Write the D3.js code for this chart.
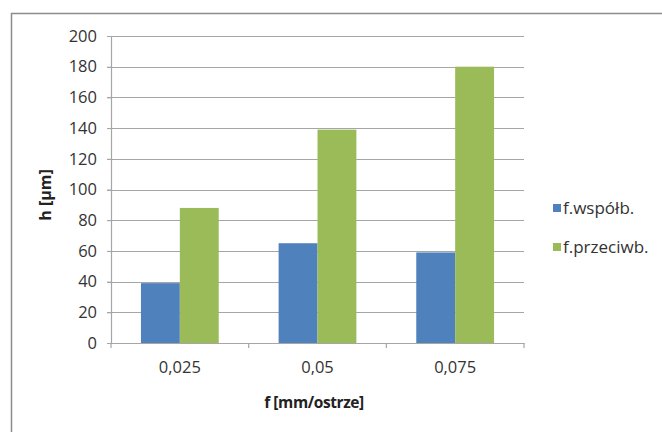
<!DOCTYPE html>
<html><head><meta charset="utf-8">
<script src="https://cdn.jsdelivr.net/npm/d3@7"></script>
<style>body{margin:0;background:#fff}svg{display:block}</style>
</head><body><svg id="c" width="662" height="432"></svg>
<script>
const categories = ["0,025", "0,05", "0,075"];
const seriesNames = ["f.współb.", "f.przeciwb."];
const wspolb = [39, 65, 59];
const przeciwb = [88, 139, 180];
const yTicks = [0, 20, 40, 60, 80, 100, 120, 140, 160, 180, 200];
const colors = ["#4F81BD", "#9BBB59"];

const svg = d3.select("#c");
const font = "'Open Sans', 'Liberation Sans', sans-serif";
const W = 662, H = 432;
const m = {left: 111, right: 524, top: 36, bottom: 343};

// outer frame
svg.append("path").attr("d", `M11.5,${H} V13.5 H${W}`).attr("fill", "none").attr("stroke", "#8c8c8c").attr("stroke-width", 1.5);

const x = d3.scaleBand().domain(categories).range([m.left, m.right]);
const xs = d3.scaleBand().domain(seriesNames).range([0, x.bandwidth()]).paddingInner(0).paddingOuter(0.77);
const y = d3.scaleLinear().domain([0, 200]).range([m.bottom, m.top]);

// gridlines
svg.append("g").selectAll("line").data(yTicks).join("line")
  .attr("x1", m.left - 4).attr("x2", m.right)
  .attr("y1", d => Math.round(y(d)) + 0.5).attr("y2", d => Math.round(y(d)) + 0.5)
  .attr("stroke", "#a6a6a6").attr("stroke-width", 1.2);

// bars
const data = [wspolb, przeciwb];
const g = svg.append("g");
seriesNames.forEach((s, si) => {
  g.selectAll(null).data(categories).join("rect")
    .attr("x", c => x(c) + xs(s))
    .attr("width", xs.bandwidth())
    .attr("y", (c, i) => y(data[si][i]))
    .attr("height", (c, i) => y(0) - y(data[si][i]))
    .attr("fill", colors[si]);
});

// y axis
const yAxis = d3.axisLeft(y).tickValues(yTicks).tickSize(4).tickPadding(10);
const ga = svg.append("g").attr("transform", `translate(${m.left},0)`).call(yAxis);
ga.select(".domain").attr("stroke", "#a6a6a6").attr("stroke-width", 1.2);
ga.selectAll(".tick line").attr("stroke", "#a6a6a6");
ga.selectAll("text").attr("font-family", font).attr("font-size", 16.5).attr("fill", "#333");

// x axis
const xAxis = d3.axisBottom(x).tickSize(0).tickPadding(18);
const gx = svg.append("g").attr("transform", `translate(0,${m.bottom})`).call(xAxis);
gx.select(".domain").attr("stroke", "#a6a6a6").attr("stroke-width", 1.2);
gx.selectAll("text").attr("font-family", font).attr("font-size", 16.5).attr("fill", "#333");
// category separators
svg.append("g").selectAll("line").data(categories).join("line")
  .attr("x1", c => x(c) + x.bandwidth()).attr("x2", c => x(c) + x.bandwidth())
  .attr("y1", m.bottom).attr("y2", m.bottom + 5)
  .attr("stroke", "#a6a6a6").attr("stroke-width", 1.2);
svg.append("line").attr("x1", m.left).attr("x2", m.left).attr("y1", m.bottom).attr("y2", m.bottom + 5)
  .attr("stroke", "#a6a6a6").attr("stroke-width", 1.2);

// titles
svg.append("text").attr("x", 314).attr("y", 408).attr("text-anchor", "middle")
  .attr("font-family", font).attr("font-size", 15.5).attr("font-weight", "bold").attr("letter-spacing", -0.4).attr("fill", "#222")
  .text("f [mm/ostrze]");
svg.append("text").attr("transform", "translate(51,195) rotate(-90)").attr("text-anchor", "middle")
  .attr("font-family", font).attr("font-size", 16).attr("font-weight", "bold").attr("fill", "#222")
  .text("h [µm]");

// legend
const lg = svg.append("g");
seriesNames.forEach((s, i) => {
  const yy = 208 + i * 39;
  lg.append("rect").attr("x", 553).attr("y", yy - 4).attr("width", 8).attr("height", 8).attr("fill", colors[i]);
  lg.append("text").attr("x", 563).attr("y", yy).attr("dy", "0.35em")
    .attr("font-family", font).attr("font-size", 17).attr("fill", "#333").text(s);
});
</script></body></html>
